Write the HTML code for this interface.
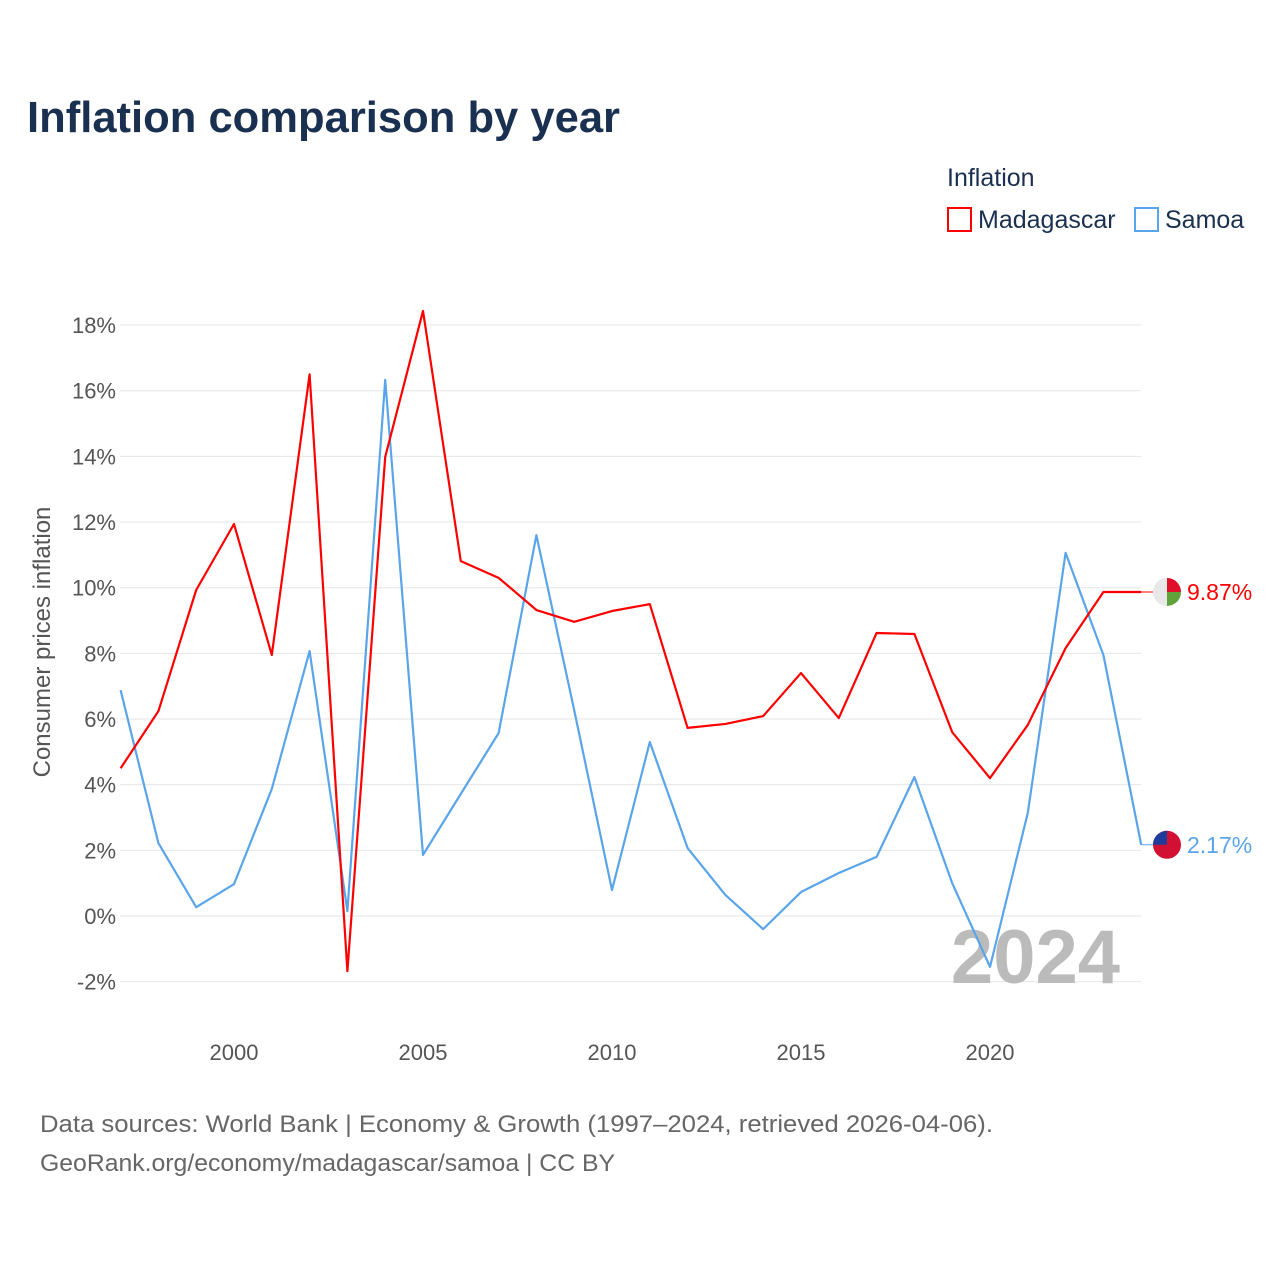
<!DOCTYPE html>
<html><head><meta charset="utf-8"><style>
body{margin:0;background:#fff;font-family:"Liberation Sans",sans-serif}
</style></head><body>
<svg id="c" width="1280" height="1280" xmlns="http://www.w3.org/2000/svg">
<text x="27" y="132" font-size="44" font-weight="bold" fill="#1a3050" textLength="593" lengthAdjust="spacingAndGlyphs">Inflation comparison by year</text>
<text x="947" y="186" font-size="25" fill="#1a3050">Inflation</text>
<g><rect x="948" y="208" width="23" height="23" fill="none" stroke="#ff0000" stroke-width="2"/><text x="978" y="228" font-size="25" fill="#1a3050">Madagascar</text></g>
<g><rect x="1135" y="208" width="23" height="23" fill="none" stroke="#5aa5ea" stroke-width="2"/><text x="1165" y="228" font-size="25" fill="#1a3050">Samoa</text></g>
<text transform="translate(50,642) rotate(-90)" text-anchor="middle" font-size="24" fill="#555">Consumer prices inflation</text>
<g id="grid"></g><g id="xt"></g>
<text x="1120" y="983" text-anchor="end" font-size="76" font-weight="bold" fill="#bbb">2024</text>
<g id="lines"></g>
<text x="40" y="1132" font-size="24" fill="#666" textLength="953" lengthAdjust="spacingAndGlyphs">Data sources: World Bank | Economy &amp; Growth (1997–2024, retrieved 2026-04-06).</text>
<text x="40" y="1171" font-size="24" fill="#666" textLength="575" lengthAdjust="spacingAndGlyphs">GeoRank.org/economy/madagascar/samoa | CC BY</text>
</svg>
<script>
const years=[1997,1998,1999,2000,2001,2002,2003,2004,2005,2006,2007,2008,2009,2010,2011,2012,2013,2014,2015,2016,2017,2018,2019,2020,2021,2022,2023,2024];
const madagascar=[4.5,6.24,9.93,11.94,7.95,16.5,-1.68,13.98,18.43,10.81,10.3,9.32,8.96,9.29,9.5,5.73,5.85,6.09,7.4,6.03,8.62,8.59,5.6,4.2,5.82,8.16,9.87,9.87];
const samoa=[6.88,2.22,0.27,0.97,3.87,8.07,0.15,16.33,1.86,3.72,5.57,11.6,6.27,0.79,5.3,2.07,0.64,-0.4,0.73,1.31,1.8,4.23,1.0,-1.55,3.14,11.06,7.95,2.17];
const yTicks=[-2,0,2,4,6,8,10,12,14,16,18];
const xTicks=[2000,2005,2010,2015,2020];
const NS="http://www.w3.org/2000/svg";
const X=y=>120.6+(y-1997)*37.8;
const Y=v=>916-v*32.83;
function mk(t,a,p){const e=document.createElementNS(NS,t);for(const k in a)e.setAttribute(k,a[k]);p.appendChild(e);return e;}
const g=document.getElementById('grid');
yTicks.forEach(v=>{
 const l=mk('line',{x1:120,x2:1141,y1:Y(v),y2:Y(v),stroke:'#e6e6e6','stroke-width':1},g);
 
 
 const t=mk('text',{x:116,y:Y(v)+8,'text-anchor':'end','font-size':22,fill:'#555'},g);
 t.textContent=v+'%';
 
 
});
const xt=document.getElementById('xt');
xTicks.forEach(v=>{
 const t=mk('text',{x:X(v),y:1060,'text-anchor':'middle','font-size':22,fill:'#555'},xt);
 t.textContent=v;
 
 
});
const L=document.getElementById('lines');
function series(vals,col,name,lab){
 const pts=vals.map((v,i)=>X(years[i])+','+Y(v)).join(' ');
 const p=mk('polyline',{points:pts,fill:'none',stroke:col,'stroke-width':2.2,'stroke-linejoin':'round'},L);
 
 
 const last=vals[vals.length-1];
 const ln=mk('line',{x1:X(2024),x2:1160,y1:Y(last),y2:Y(last),stroke:col,'stroke-width':1},L);
 
 
 const c=mk('circle',{cx:1167,cy:Y(last),r:14,fill:name==='madagascar'?'#e8e8e8':'#d21034'},L);
 
 
 if(name==='madagascar'){
  mk('path',{d:`M1167 ${Y(last)} L1167 ${Y(last)-14} A14 14 0 0 1 1181 ${Y(last)} Z`,fill:'#e0102a'},L);
  mk('path',{d:`M1167 ${Y(last)} L1181 ${Y(last)} A14 14 0 0 1 1167 ${Y(last)+14} Z`,fill:'#5fa33a'},L);
 } else {
  mk('path',{d:`M1167 ${Y(last)} L1153 ${Y(last)} A14 14 0 0 1 1167 ${Y(last)-14} Z`,fill:'#1f3c9a'},L);
 }
 const t=mk('text',{x:1187,y:Y(last)+8,'font-size':23,fill:col},L);
 t.textContent=lab;
 
 
}
series(samoa,'#5aa5ea','samoa',samoa[samoa.length-1].toFixed(2)+'%');
series(madagascar,'#ff0000','madagascar',madagascar[madagascar.length-1].toFixed(2)+'%');
</script>
</body></html>
